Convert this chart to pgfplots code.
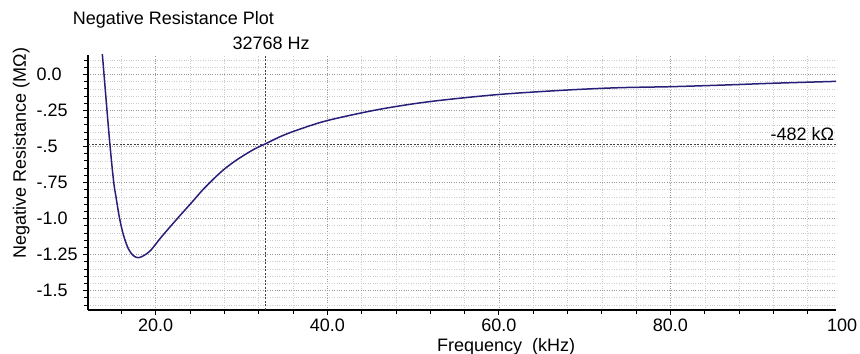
\documentclass[border=0pt]{standalone}
\usepackage{fontspec}
\setmainfont{Liberation Sans}
\usepackage{pgfplots}
\pgfplotsset{compat=1.18}
\definecolor{curve}{RGB}{40,32,120}
\newcommand{\f}{\fontsize{18bp}{20bp}\selectfont}
\begin{document}
\begin{tikzpicture}
\useasboundingbox (0,0) rectangle (860bp,354bp);
\begin{axis}[
 at={(88bp,44bp)}, anchor=south west,
 scale only axis, width=748bp, height=255bp,
 xmin=12.11, xmax=99.29, ymin=-1.635, ymax=0.135,
 axis x line*=bottom, axis y line*=left,
 axis line style={-, line width=1.2bp, black},
 tick align=outside,
 xtick={20,40,60,80}, xticklabels={20.0,40.0,60.0,80.0},
 minor xtick={16,24,28,32,36,44,48,52,56,64,68,72,76,84,88,92,96},
 ytick={-1.5,-1.25,-1,-0.75,-0.5,-0.25,0},
 yticklabels={-1.5,-1.25,-1.0,-.75,-.5,-.25,0.0},
 minor ytick={-1.6,-1.55,...,0.1},
 major tick length=5bp, minor tick length=4bp,
 tick style={black, line width=0.8bp},
 grid=both,
 major grid style={black!40, dotted, line width=0.6bp},
 minor grid style={black!20, dotted, line width=0.6bp},
 tick label style={font=\f},
 yticklabel style={anchor=west, xshift=-50bp},
 label style={font=\f},
 xlabel={Frequency\ \ (kHz)},
 ylabel={Negative Resistance (MΩ)},
 xlabel style={at={(ticklabel cs:0.559)}},
 ylabel style={at={(ticklabel cs:0.616)}},
 clip mode=individual,
]
\addplot[black!75, line width=0.7bp, dash pattern=on 2bp off 1.5bp] coordinates {(32.768,-1.635) (32.768,0.135)};
\addplot[black!75, line width=0.7bp, dash pattern=on 2bp off 1.5bp] coordinates {(12.11,-0.482) (99.29,-0.482)};
\addplot[curve, line width=1.5bp, smooth] coordinates {
(13.55,0.30) (13.78,0.142) (14.2,-0.16) (14.67,-0.49) (15.1,-0.745) (15.4,-0.86)
(15.76,-0.99) (16.22,-1.11) (16.81,-1.21) (17.4,-1.258) (17.97,-1.272) (18.6,-1.258)
(19.4,-1.222) (20.5,-1.14) (21.5,-1.07) (22.6,-0.995) (23.5,-0.935) (24.4,-0.875)
(25.5,-0.80) (26.7,-0.728) (27.9,-0.662) (29.2,-0.603) (30.5,-0.553) (31.6,-0.515)
(32.77,-0.482) (34.5,-0.432) (36.4,-0.388) (40,-0.32) (46,-0.243)
(52,-0.188) (60,-0.139) (68,-0.108) (74,-0.092) (80,-0.085) (86,-0.074) (92,-0.061) (99.3,-0.048)
};
\node[anchor=north, font=\f, inner sep=0.3333em, yshift=-5bp] at (axis cs:100,-1.635) {100};
\end{axis}
\node[anchor=base west, font=\f, inner sep=0pt] at (72.7bp,329bp) {Negative Resistance Plot};
\node[anchor=base west, font=\f, inner sep=0pt] at (232.3bp,304bp) {32768 Hz};
\node[anchor=base east, font=\f, inner sep=0pt] at (834.3bp,213bp) {-482 kΩ};
\end{tikzpicture}
\end{document}
